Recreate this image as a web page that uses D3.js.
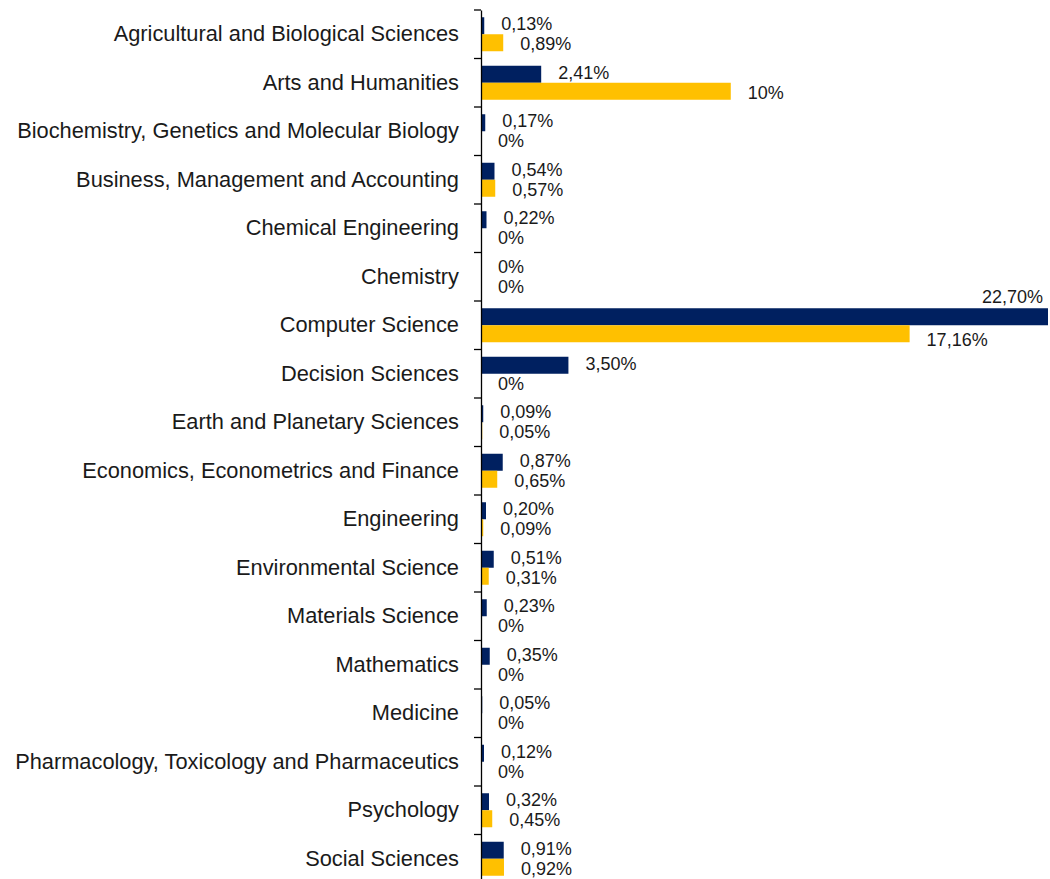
<!DOCTYPE html>
<html>
<head>
<meta charset="utf-8">
<script src="https://cdn.jsdelivr.net/npm/d3@7"></script>
<style>
  html, body { margin: 0; padding: 0; background: #fff; }
  svg { display: block; }
  text { font-family: "Liberation Sans", Arial, sans-serif; fill: #1a1a1a; }
</style>
</head>
<body>
<div id="chart"></div>
<script>
// 类别
const categories = [
    'Agricultural and Biological Sciences',
    'Arts and Humanities',
    'Biochemistry, Genetics and Molecular Biology',
    'Business, Management and Accounting',
    'Chemical Engineering',
    'Chemistry',
    'Computer Science',
    'Decision Sciences',
    'Earth and Planetary Sciences',
    'Economics, Econometrics and Finance',
    'Engineering',
    'Environmental Science',
    'Materials Science',
    'Mathematics',
    'Medicine',
    'Pharmacology, Toxicology and Pharmaceutics',
    'Psychology',
    'Social Sciences'
];

// 系列数值 (%)
const navyValues = [0.13, 2.41, 0.17, 0.54, 0.22, 0, 22.70, 3.50, 0.09, 0.87, 0.20, 0.51, 0.23, 0.35, 0.05, 0.12, 0.32, 0.91];
const goldValues = [0.89, 10, 0, 0.57, 0, 0, 17.16, 0, 0.05, 0.65, 0.09, 0.31, 0, 0, 0, 0, 0.45, 0.92];

const width = 1050;
const height = 879;
const axisX = 481;

const svg = d3.select('#chart')
    .append('svg')
    .attr('width', width)
    .attr('height', height);

const y = d3.scaleBand()
    .domain(categories)
    .range([10, 10 + 48.5 * categories.length]);

const x = d3.scaleLinear()
    .domain([0, 22.70])
    .range([axisX, 1048]);

const barH = 17;

function fmt(v) {
    if (Number.isInteger(v)) return v + '%';
    return v.toFixed(2).replace('.', ',') + '%';
}

const series = [
    { values: navyValues, color: '#002060', offset: -barH, labelDy: -10 },
    { values: goldValues, color: '#FFC000', offset: 0, labelDy: 10 }
];

// 柱子
series.forEach(s => {
    svg.append('g')
        .selectAll('rect')
        .data(categories)
        .enter().append('rect')
        .attr('x', axisX)
        .attr('y', d => y(d) + y.bandwidth() / 2 + s.offset)
        .attr('width', (d, i) => x(s.values[i]) - axisX)
        .attr('height', barH)
        .attr('fill', s.color);
});

// 数据标签
series.forEach((s, si) => {
    svg.append('g')
        .selectAll('text')
        .data(categories)
        .enter().append('text')
        .attr('font-size', 18)
        .attr('dominant-baseline', 'central')
        .each(function(d, i) {
            const v = s.values[i];
            const cy = y(d) + y.bandwidth() / 2 + s.labelDy;
            const t = d3.select(this).text(fmt(v));
            if (x(v) + 17 + 70 > width) {
                // 放不下: 放在柱子上方右对齐
                t.attr('x', x(v) - 5).attr('y', cy - 18).attr('text-anchor', 'end');
            } else {
                t.attr('x', x(v) + 17).attr('y', cy + (v > 15 ? 5 : 0));
            }
        });
});

// 纵轴
const axis = d3.axisLeft(y).tickSize(0).tickPadding(22);
const gAxis = svg.append('g')
    .attr('transform', `translate(${axisX},0)`)
    .call(axis);
gAxis.select('.domain').attr('stroke', '#000').attr('stroke-width', 1.3);
gAxis.selectAll('text')
    .attr('font-size', 21.8)
    .attr('fill', '#1a1a1a')
    .style('font-family', '"Liberation Sans", Arial, sans-serif');

// 分隔刻度
svg.append('g')
    .selectAll('line')
    .data(d3.range(categories.length + 1))
    .enter().append('line')
    .attr('x1', axisX - 7)
    .attr('x2', axisX)
    .attr('y1', i => 10 + i * y.step())
    .attr('y2', i => 10 + i * y.step())
    .attr('stroke', '#000')
    .attr('stroke-width', 1.3);
</script>
</body>
</html>
